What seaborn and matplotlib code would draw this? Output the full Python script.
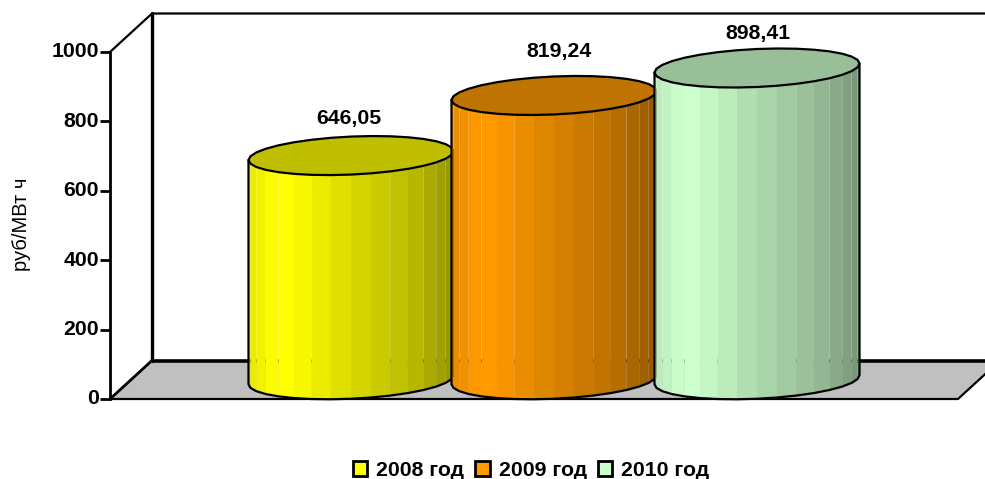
import matplotlib
matplotlib.use("Agg")
import matplotlib.pyplot as plt
from matplotlib.transforms import ScaledTranslation
import numpy as np
import seaborn as sns

years = ["2008 год", "2009 год", "2010 год"]
values = [646.05, 819.24, 898.41]
value_labels = ["646,05", "819,24", "898,41"]
colors = ["#FFFF00", "#FF9900", "#CCFFCC"]
y_ticks = [0, 200, 400, 600, 800, 1000]
y_title = "руб/МВт ч"

W, H = 985, 479
# front plane of the box in pixels
LEFT, RIGHT, BOTTOM, TOP = 110, 958, 399, 52
PX_Y = (BOTTOM - TOP) / 1000
CAT_PX = 203
DX = 42 / CAT_PX
DY = 38.5 / PX_Y
B = 19 / PX_Y     # ellipse half height
S = 4.5 / PX_Y    # ellipse tilt
FS = 15.3


def shade(u):
    return np.interp(u, [0, 0.06, 0.13, 0.2, 0.5, 0.8, 1], [0.9, 0.95, 1, 1, 0.85, 0.73, 0.58])


def ellipse(cx, cy, a, t):
    return cx + a * np.cos(t), cy + B * np.sin(t) + S * np.cos(t)


def draw_cylinder(ax, patch, color, z):
    cx = patch.get_x() + patch.get_width() / 2 + DX / 2
    a = patch.get_width() / 2
    y0 = DY / 2
    y1 = patch.get_height() + DY / 2
    base = np.array(matplotlib.colors.to_rgb(color))

    # side facets, front half of the cylinder only
    t = np.linspace(-np.pi, 0, 17)
    for t0, t1 in zip(t[:-1], t[1:]):
        xa, ya = ellipse(cx, y0, a, t0)
        xb, yb = ellipse(cx, y0, a, t1)
        xc, yc = ellipse(cx, y1, a, t1)
        xd, yd = ellipse(cx, y1, a, t0)
        u = ((xa + xb) / 2 - (cx - a)) / (2 * a)
        ax.fill([xa, xb, xc, xd], [ya, yb, yc, yd], color=base * shade(u), lw=0, zorder=z, clip_on=False)

    # top face
    tt = np.linspace(0, 2 * np.pi, 33)
    xt, yt = ellipse(cx, y1, a, tt)
    ax.fill(xt, yt, facecolor=base * 0.75, edgecolor="black", lw=1.6, zorder=z + 0.2, clip_on=False)

    # outline
    xs, ys = ellipse(cx, y0, a, t)
    xs = np.r_[cx - a, xs, cx + a]
    ys = np.r_[ellipse(cx, y1, a, np.pi)[1], ys, ellipse(cx, y1, a, 0)[1]]
    ax.plot(xs, ys, color="black", lw=1.6, zorder=z + 0.1, clip_on=False)


def main():
    sns.set_theme(style="ticks")
    plt.rcParams["font.family"] = ["Liberation Sans", "DejaVu Sans"]
    plt.rcParams["text.color"] = "black"

    fig = plt.figure(figsize=(W / 100, H / 100), dpi=100)
    ax = fig.add_axes([LEFT / W, 1 - BOTTOM / H, (RIGHT - LEFT) / W, (BOTTOM - TOP) / H])

    sns.barplot(x=years, y=values, hue=years, palette=colors, width=1.01, saturation=1,
                edgecolor="black", linewidth=2, legend=True, ax=ax)

    xl = (LEFT - 330) / CAT_PX
    xr = (RIGHT - 330) / CAT_PX
    ax.set_xlim(xl, xr)
    ax.set_ylim(0, 1000)
    ax.set_yticks(y_ticks)
    ax.set_xticks([])
    ax.set_xlabel("")
    ax.tick_params(axis="y", length=7, width=2, pad=1, color="black")
    up = ScaledTranslation(0, 2 / 100, fig.dpi_scale_trans)
    for lab in ax.get_yticklabels():
        lab.set_fontsize(FS)
        lab.set_fontweight("bold")
        lab.set_color("black")
        lab.set_transform(lab.get_transform() + up)
    sns.despine(ax=ax, top=True, right=True, bottom=True)
    ax.spines["left"].set_linewidth(2)
    ax.spines["left"].set_color("black")
    ax.set_ylabel(y_title, fontsize=14.5, color="black")
    ax.yaxis.set_label_coords(-0.093, 0.504)

    handles, labels = ax.get_legend_handles_labels()
    ax.legend(handles, labels, ncol=3, loc="center", bbox_to_anchor=(531 / W, 1 - 470 / H),
              bbox_transform=fig.transFigure, frameon=False,
              handlelength=0.7, handleheight=0.7, handletextpad=0.42, columnspacing=0.5,
              labelcolor="black", prop={"weight": "bold", "size": FS})

    # walls and floor of the box
    ax.fill([xl, xr, xr + DX, xl + DX], [0, 0, DY, DY], facecolor="#C0C0C0", lw=0, zorder=0.5, clip_on=False)
    ax.plot([xl, xr, xr + DX], [0, 0, DY], color="black", lw=1.6, zorder=0.6, clip_on=False)
    ax.plot([xl, xl + DX], [0, DY], color="black", lw=2, zorder=0.7, clip_on=False)
    ax.plot([xl + DX, xr + DX], [DY, DY], color="black", lw=2.6, zorder=0.7, clip_on=False)
    ax.plot([xl + DX, xl + DX], [DY, 1000 + DY], color="black", lw=2.4, zorder=0.7, clip_on=False)
    ax.plot([xl, xl + DX, xr + DX], [1000, 1000 + DY, 1000 + DY], color="black", lw=1.6, zorder=0.7, clip_on=False)

    # cylinders from the bars, each one laps over the one before
    for i, (patch, color) in enumerate(zip(ax.patches, colors)):
        draw_cylinder(ax, patch, color, 2 + i)
        patch.set_visible(False)

    shifts = [(-2, 9), (5, 15), (1, 6)]
    for i, (v, txt) in enumerate(zip(values, value_labels)):
        ax.annotate(txt, (i + DX / 2, v + DY / 2 + B), xytext=shifts[i], textcoords="offset pixels",
                    ha="center", va="bottom", fontsize=FS, fontweight="bold", color="black",
                    annotation_clip=False)

    fig.savefig("out.png", dpi=100)


if __name__ == "__main__":
    main()
